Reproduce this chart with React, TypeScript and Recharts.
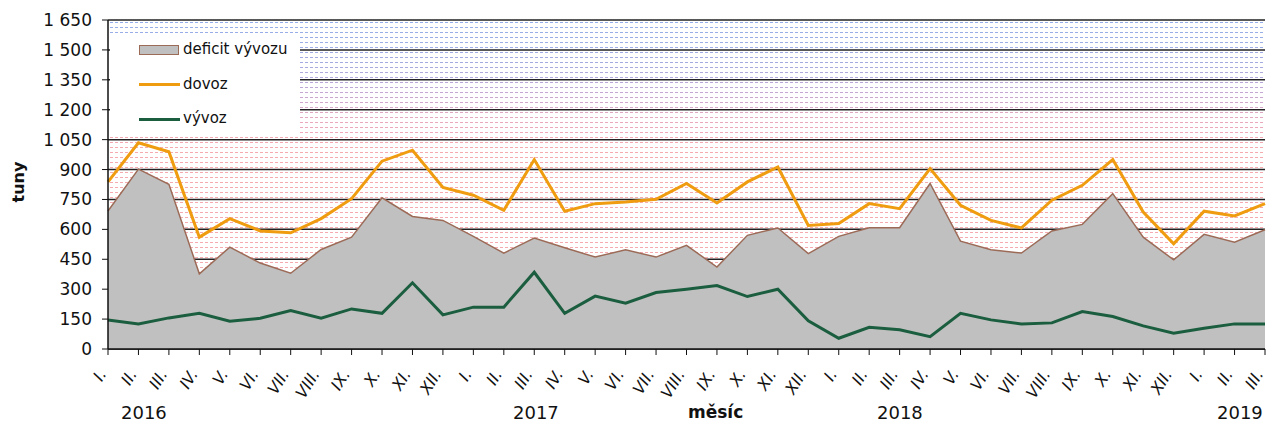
import React from 'react';
import { ComposedChart, Area, Line, XAxis, YAxis, CartesianGrid } from 'recharts';

// months I.2016 - III.2019
const months = [
  'I.', 'II.', 'III.', 'IV.', 'V.', 'VI.', 'VII.', 'VIII.', 'IX.', 'X.', 'XI.', 'XII.',
  'I.', 'II.', 'III.', 'IV.', 'V.', 'VI.', 'VII.', 'VIII.', 'IX.', 'X.', 'XI.', 'XII.',
  'I.', 'II.', 'III.', 'IV.', 'V.', 'VI.', 'VII.', 'VIII.', 'IX.', 'X.', 'XI.', 'XII.',
  'I.', 'II.', 'III.',
];

// tuny
const dovoz = [
  838, 1034, 989, 561, 654, 592, 583, 654, 754, 942, 997, 810,
  771, 696, 950, 691, 729, 737, 751, 830, 732, 838, 913, 620,
  629, 729, 704, 905, 721, 645, 607, 746, 821, 950, 687, 528,
  691, 667, 729,
];

const vyvoz = [
  146, 126, 156, 179, 139, 154, 193, 154, 201, 179, 332, 171,
  210, 210, 385, 179, 265, 230, 283, 300, 318, 263, 300, 142,
  54, 109, 96, 62, 179, 146, 126, 131, 188, 163, 116, 79,
  104, 126, 126,
];

const deficit = [
  692, 902, 826, 377, 511, 431, 380, 499, 561, 758, 665, 645,
  565, 481, 556, 508, 461, 498, 461, 520, 411, 570, 607, 478,
  565, 608, 608, 830, 541, 498, 481, 592, 625, 779, 561, 447,
  575, 536, 598,
];

const yTicks = [0, 150, 300, 450, 600, 750, 900, 1050, 1200, 1350, 1500, 1650];

const years = [
  { label: '2016', left: 121 },
  { label: '2017', left: 513 },
  { label: '2018', left: 877 },
  { label: '2019', left: 1217 },
];

const rows = months.map((m, i) => ({
  m,
  deficit: deficit[i],
  dovoz: dovoz[i],
  vyvoz: vyvoz[i],
}));

const FONT = '"DejaVu Sans", Verdana, sans-serif';
const ORANGE = '#EF9C10';
const GREEN = '#1B5E3F';
const GREY = '#C0C0C0';
const BROWN = '#9C6B58';

const fmt = (v: number) => String(v).replace(/\B(?=(\d{3})+(?!\d))/g, ' ');

const MonthTick = (props: any) => {
  const { x, y, payload } = props;
  const ax = x - 1;
  const ay = y + 17;
  return (
    <text
      x={ax}
      y={ay}
      transform={`rotate(-58 ${ax} ${ay})`}
      textAnchor="end"
      fontSize={16}
      fontStyle="italic"
      fontFamily={FONT}
      fill="#111"
    >
      {payload.value}
    </text>
  );
};

const App = () => {
  return (
    <div style={{ position: 'absolute', left: 0, top: 0, width: 1268, height: 423, fontFamily: FONT }}>
      <ComposedChart width={1268} height={423} data={rows} margin={{ top: 20, right: 3, left: 0, bottom: 0 }}>
        <defs>
          <linearGradient id="bgGrad" x1="0" y1="0" x2="0" y2="1">
            <stop offset="0.05" stopColor="#94aeea" />
            <stop offset="0.15" stopColor="#a4aae0" />
            <stop offset="0.22" stopColor="#c4a6d2" />
            <stop offset="0.29" stopColor="#eaa8bc" />
            <stop offset="0.35" stopColor="#f5aab0" />
            <stop offset="1" stopColor="#f5aab0" />
          </linearGradient>
          <pattern id="dashLines" patternUnits="userSpaceOnUse" width="5" height="5">
            <rect x="0" y="2" width="3" height="1" fill="white" />
          </pattern>
          <mask id="dashMask">
            <rect x="0" y="0" width="1268" height="423" fill="url(#dashLines)" />
          </mask>
          <pattern id="bgFill" patternUnits="userSpaceOnUse" width="1268" height="423">
            <rect x="0" y="0" width="1268" height="423" fill="#fff" />
            <rect x="0" y="0" width="1268" height="423" fill="url(#bgGrad)" mask="url(#dashMask)" />
          </pattern>
        </defs>
        <CartesianGrid vertical={false} stroke="#222" strokeWidth={1.5} fill="url(#bgFill)" fillOpacity={1} />
        <XAxis
          dataKey="m"
          interval={0}
          height={74}
          tick={<MonthTick />}
          tickSize={6}
          tickLine={{ stroke: '#111' }}
          axisLine={{ stroke: '#111', strokeWidth: 1.5 }}
        />
        <YAxis
          domain={[0, 1650]}
          ticks={yTicks}
          width={108}
          tickFormatter={fmt}
          tickSize={6}
          tickMargin={10}
          tick={{ fontSize: 17, fill: '#111', fontFamily: FONT }}
          tickLine={{ stroke: '#111' }}
          axisLine={{ stroke: '#111', strokeWidth: 1.5 }}
        />
        <Area
          type="linear"
          dataKey="deficit"
          fill={GREY}
          fillOpacity={1}
          stroke={BROWN}
          strokeWidth={1.5}
          isAnimationActive={false}
        />
        <Line type="linear" dataKey="dovoz" stroke={ORANGE} strokeWidth={3} dot={false} isAnimationActive={false} />
        <Line type="linear" dataKey="vyvoz" stroke={GREEN} strokeWidth={3} dot={false} isAnimationActive={false} />
      </ComposedChart>

      {/* legend */}
      <div style={{ position: 'absolute', left: 110, top: 33, width: 190, height: 104, background: '#fff', fontSize: 15, color: '#111' }}>
        <div style={{ position: 'absolute', left: 29, top: 12, width: 38, height: 8, background: GREY, border: `1.5px solid ${BROWN}` }} />
        <div style={{ position: 'absolute', left: 73, top: 7 }}>deficit vývozu</div>
        <div style={{ position: 'absolute', left: 29, top: 50, width: 41, height: 3, background: ORANGE }} />
        <div style={{ position: 'absolute', left: 73, top: 42 }}>dovoz</div>
        <div style={{ position: 'absolute', left: 29, top: 85, width: 41, height: 3, background: GREEN }} />
        <div style={{ position: 'absolute', left: 73, top: 76 }}>vývoz</div>
      </div>

      {/* axis titles */}
      <div style={{ position: 'absolute', left: 18, top: 182, transform: 'translate(-50%, -50%) rotate(-90deg)', fontSize: 16, fontWeight: 'bold', color: '#111' }}>
        tuny
      </div>
      <div style={{ position: 'absolute', left: 688, top: 402, fontSize: 17, fontWeight: 'bold', color: '#111' }}>měsíc</div>
      {years.map((y) => (
        <div key={y.label} style={{ position: 'absolute', left: y.left, top: 402, fontSize: 18, color: '#111' }}>
          {y.label}
        </div>
      ))}
    </div>
  );
};

export default App;
